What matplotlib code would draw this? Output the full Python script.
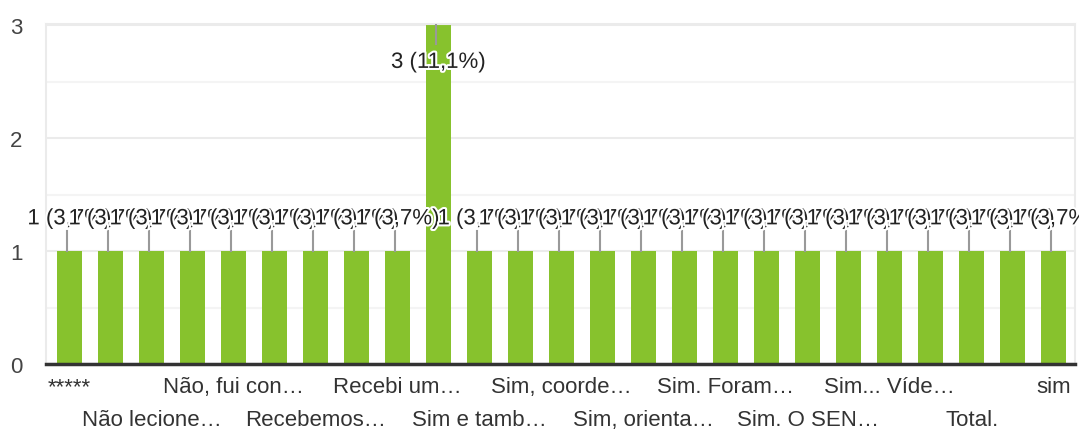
import matplotlib.pyplot as plt
import matplotlib.patheffects as pe
from matplotlib.ticker import MultipleLocator

plt.rcParams['font.family'] = ['Liberation Sans', 'DejaVu Sans']

# contagem de respostas por categoria (25 barras)
counts = [1, 1, 1, 1, 1, 1, 1, 1, 1, 3, 1, 1, 1, 1, 1,
          1, 1, 1, 1, 1, 1, 1, 1, 1, 1]
total = 27

# rótulos visíveis do eixo x (um a cada dois)
tick_pos = [0, 2, 4, 6, 8, 10, 12, 14, 16, 18, 20, 22, 24]
tick_labels = ['*****', 'Não lecione…', 'Não, fui con…', 'Recebemos…',
               'Recebi um…', 'Sim e tamb…', 'Sim, coorde…', 'Sim, orienta…',
               'Sim. Foram…', 'Sim. O SEN…', 'Sim... Víde…', 'Total.', 'sim']

green = '#87c22d'

fig = plt.figure(figsize=(10.79, 4.31), dpi=100)
ax = fig.add_axes([0.0426, 0.1531, 0.9537, 0.7889])

x = list(range(len(counts)))
ax.bar(x, counts, width=0.61, color=green, zorder=2)

ax.set_xlim(-0.573, 24.52)
ax.set_ylim(0, 3.01)

# grade
ax.yaxis.set_major_locator(MultipleLocator(1))
ax.yaxis.set_minor_locator(MultipleLocator(0.5))
ax.grid(axis='y', which='major', color='#ebebeb', linewidth=1.5, zorder=0)
ax.grid(axis='y', which='minor', color='#f4f4f4', linewidth=1.5, zorder=0)
for s in ['left', 'right', 'top']:
    ax.spines[s].set_color('#ebebeb')
    ax.spines[s].set_linewidth(1.5)
ax.spines['bottom'].set_color('#333333')
ax.spines['bottom'].set_linewidth(2.5)
ax.spines['bottom'].set_zorder(3)

ax.tick_params(axis='y', which='both', length=0, pad=17, labelsize=16,
               labelcolor='#444444')
ax.set_xticks([])

# rótulos do eixo x em duas linhas alternadas
for p, lab in zip(tick_pos, tick_labels):
    row = 0 if p % 4 == 0 else 1
    ax.text(p, -0.20 - row * 0.295, lab, ha='center', va='center',
            fontsize=16, color='#333333', clip_on=False)

# rótulos de valor com linha guia
vmax = max(counts)
halo = [pe.withStroke(linewidth=3, foreground='white')]
for i, v in enumerate(counts):
    pct = f'{v} ({v / total * 100:.1f}%)'.replace('.', ',')
    if v == vmax:
        ly = v - 0.33
        ax.plot([i - 0.06, i - 0.06], [v, v - 0.17], color='#999999',
                linewidth=1.5, zorder=3)
    else:
        ly = v + 0.285
        ax.plot([i - 0.06, i - 0.06], [v, v + 0.175], color='#999999',
                linewidth=1.5, zorder=3)
    ax.text(i, ly, pct, ha='center', va='center', fontsize=16,
            color='#222222', path_effects=halo, zorder=4 + i, clip_on=False)

plt.savefig('out.png', dpi=100)
